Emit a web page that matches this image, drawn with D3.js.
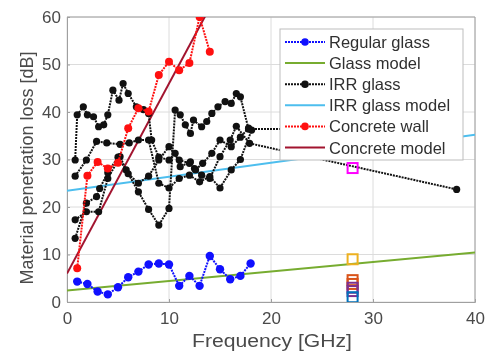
<!DOCTYPE html>
<html>
<head>
<meta charset="utf-8">
<script src="https://cdn.jsdelivr.net/npm/d3@7"></script>
<style>
  html, body { margin: 0; padding: 0; background: #fff; }
  svg { display: block; font-family: "Liberation Sans", Arial, sans-serif; filter: blur(0.45px); }
</style>
</head>
<body>
<svg id="chart" width="487" height="353"></svg>
<script>
const regularGlassFreq = [1, 2, 3, 4, 5, 6, 7, 8, 9, 10, 11, 12, 13, 14, 15, 16, 17, 18];
const regularGlassLoss = [4.3, 3.8, 2.2, 1.6, 3.1, 5.2, 6.4, 7.9, 8.1, 7.9, 3.4, 5.5, 3.4, 9.7, 6.9, 4.8, 5.5, 8.1];

const concreteFreq = [1, 2, 3, 4, 5, 6, 7, 8, 9, 10, 11, 12, 13, 14];
const concreteLoss = [7.1, 26.6, 29.5, 28.1, 29.3, 36.6, 40.8, 40.1, 47.8, 50.6, 48.8, 50.3, 60, 52.7];

// IRR glass sweeps: [GHz, dB]
const irrGlass1 = [[0.8, 29.9], [1.0, 39.4], [1.6, 41.1], [2.0, 39.4], [2.6, 39.0], [3.1, 36.9], [3.6, 37.3], [4.0, 39.4],
  [4.5, 44.6], [5.1, 42.5], [5.5, 46.0], [6.0, 43.9], [6.8, 41.1], [7.5, 40.5], [8.0, 39.7], [8.3, 34.1], [9.0, 30.5],
  [10.0, 29.9], [10.6, 31.3], [11.1, 28.5], [12.1, 29.5], [12.5, 28.1], [13.2, 26.7], [14.0, 26.0], [15.0, 30.6],
  [16.0, 34.1], [16.6, 37.0], [17.9, 33.4], [38.2, 23.7]];
const irrGlass2 = [[0.8, 26.5], [1.9, 29.9], [2.9, 33.8], [3.9, 33.5], [5.2, 33.2], [6.1, 33.5], [7.0, 34.1], [8.0, 34.1],
  [9.0, 25.0], [10.0, 24.0], [11.0, 26.0], [12.0, 26.7], [13.0, 25.3], [14.0, 26.4], [15.0, 24.0], [16.1, 27.8],
  [17.0, 30.0], [18.1, 36.2]];
const irrGlass3 = [[0.8, 17.3], [1.9, 19.0], [3.1, 19.0], [4.0, 26.0], [5.2, 30.6], [5.8, 27.8], [7.0, 23.2], [8.0, 19.5],
  [9.0, 16.2], [10.0, 19.7], [10.6, 40.4], [11.1, 39.4], [11.6, 37.3], [12.1, 35.5], [12.4, 38.3], [13.2, 36.9],
  [13.7, 38.0], [14.2, 39.7], [14.8, 41.1], [15.5, 42.2], [16.1, 41.8], [16.6, 43.9], [17.0, 43.2], [17.8, 36.4], [28, 36.4]];
const irrGlass4 = [[0.8, 13.4], [1.9, 20.8], [2.9, 22.2], [3.2, 23.9], [4.0, 27.2], [5.0, 30.5], [6.0, 27.0], [7.0, 25.0],
  [8.0, 26.5], [9.0, 29.9], [10.0, 32.7], [11.0, 29.9], [12.0, 29.2], [12.6, 27.8], [13.3, 29.2], [14.2, 31.3],
  [15.0, 34.1], [16.1, 32.7], [17.0, 34.7], [17.8, 36.6]];

// fitted models, end points [GHz, dB]
const glassModel = [[0, 2.4], [40, 10.4]];
const irrGlassModel = [[0, 23.4], [40, 35.2]];
const concreteModel = [[0, 6.0], [15, 66.0]];

// single 28 GHz measurements (hollow squares)
const squares28Loss = [28.2, 9.0, 4.6, 3.8, 3.0, 2.3, 1.0];
const squares28Color = ['#ff00ff', '#edb120', '#d95319', '#d95319', '#7e2f8e', '#7e2f8e', '#0072bd'];

const xTicks = [0, 10, 20, 30, 40];
const yTicks = [0, 10, 20, 30, 40, 50, 60];

const legendLabels = ['Regular glass', 'Glass model', 'IRR glass', 'IRR glass model', 'Concrete wall', 'Concrete model'];

const svg = d3.select('#chart');
const x = d3.scaleLinear().domain([0, 40]).range([67, 475]);
const y = d3.scaleLinear().domain([0, 60]).range([302, 17]);

svg.append('defs').append('clipPath').attr('id', 'plotclip')
  .append('rect').attr('x', 67).attr('y', 17).attr('width', 408).attr('height', 285);

// grid
const grid = svg.append('g').attr('stroke', '#dcdcdc').attr('stroke-width', 1);
grid.selectAll('line.gx').data(xTicks).join('line')
  .attr('x1', d => x(d)).attr('x2', d => x(d)).attr('y1', y(0)).attr('y2', y(60));
grid.selectAll('line.gy').data(yTicks).join('line')
  .attr('y1', d => y(d)).attr('y2', d => y(d)).attr('x1', x(0)).attr('x2', x(40));

// axes
svg.append('g').attr('transform', `translate(0,${y(0)})`)
  .call(d3.axisBottom(x).tickValues(xTicks).tickSize(-3).tickPadding(10))
  .call(g => g.select('.domain').attr('stroke', '#a0a0a0'))
  .call(g => g.selectAll('.tick line').attr('stroke', '#a0a0a0'))
  .call(g => g.selectAll('.tick text').attr('font-size', 17).attr('fill', '#4a4a4a').attr('font-family', null));
svg.append('g').attr('transform', `translate(${x(0)},0)`)
  .call(d3.axisLeft(y).tickValues(yTicks).tickSize(-3).tickPadding(6))
  .call(g => g.select('.domain').attr('stroke', '#a0a0a0'))
  .call(g => g.selectAll('.tick line').attr('stroke', '#a0a0a0'))
  .call(g => g.selectAll('.tick text').attr('font-size', 17).attr('fill', '#4a4a4a').attr('font-family', null));
// box top/right
svg.append('line').attr('x1', x(0)).attr('x2', x(40)).attr('y1', y(60)).attr('y2', y(60)).attr('stroke', '#a0a0a0');
svg.append('line').attr('x1', x(40)).attr('x2', x(40)).attr('y1', y(60)).attr('y2', y(0)).attr('stroke', '#a0a0a0');

// axis titles
svg.append('text').attr('x', 272).attr('y', 347).attr('text-anchor', 'middle')
  .attr('font-size', 18).attr('fill', '#4a4a4a').attr('textLength', 160).attr('lengthAdjust', 'spacingAndGlyphs')
  .text('Frequency [GHz]');
svg.append('text').attr('transform', 'translate(33,168) rotate(-90)').attr('text-anchor', 'middle')
  .attr('font-size', 18).attr('fill', '#4a4a4a')
  .text('Material penetration loss [dB]');

const plot = svg.append('g').attr('clip-path', 'url(#plotclip)');
const line = d3.line().x(d => x(d[0])).y(d => y(d[1]));

// models
const models = [[glassModel, '#77ac30'], [irrGlassModel, '#4dbeee'], [concreteModel, '#a2142f']];
plot.selectAll('path.model').data(models).join('path')
  .attr('d', d => line(d[0])).attr('fill', 'none').attr('stroke', d => d[1]).attr('stroke-width', 2);

// measured series
function series(points, color, r) {
  plot.append('path').attr('d', line(points)).attr('fill', 'none')
    .attr('stroke', color).attr('stroke-width', 2).attr('stroke-dasharray', '2,1');
  plot.append('g').selectAll('circle').data(points).join('circle')
    .attr('cx', d => x(d[0])).attr('cy', d => y(d[1])).attr('r', r).attr('fill', color);
}
[irrGlass1, irrGlass2, irrGlass3, irrGlass4].forEach(s => series(s, '#111', 3.6));
series(d3.zip(concreteFreq, concreteLoss), '#ff1010', 4);
series(d3.zip(regularGlassFreq, regularGlassLoss), '#1010ff', 4.2);

// 28 GHz squares
plot.selectAll('rect.sq').data(d3.zip(squares28Loss, squares28Color)).join('rect')
  .attr('x', x(28) - 5).attr('y', d => y(d[0]) - 5).attr('width', 10).attr('height', 10)
  .attr('fill', 'none').attr('stroke', d => d[1]).attr('stroke-width', 2);

// legend
const leg = svg.append('g');
leg.append('rect').attr('x', 280).attr('y', 29).attr('width', 183).attr('height', 131)
  .attr('fill', '#fff').attr('stroke', '#bdbdbd');
const legStyle = [
  { c: '#1010ff', dash: '2,1', dot: true },
  { c: '#77ac30', dash: null, dot: false },
  { c: '#111', dash: '2,1', dot: true },
  { c: '#4dbeee', dash: null, dot: false },
  { c: '#ff1010', dash: '2,1', dot: true },
  { c: '#a2142f', dash: null, dot: false }
];
const rows = leg.selectAll('g.row').data(legendLabels).join('g')
  .attr('transform', (d, i) => `translate(0,${42 + i * 21.1})`);
rows.append('line').attr('x1', 285).attr('x2', 325).attr('y1', 0).attr('y2', 0)
  .attr('stroke', (d, i) => legStyle[i].c).attr('stroke-width', 2)
  .attr('stroke-dasharray', (d, i) => legStyle[i].dash);
rows.filter((d, i) => legStyle[i].dot).append('circle').attr('cx', 305).attr('cy', 0).attr('r', 3.8)
  .attr('fill', (d, i) => legStyle[legendLabels.indexOf(d)].c);
rows.append('text').attr('x', 329).attr('y', 6).attr('font-size', 16.5).attr('fill', '#303030').text(d => d);
</script>
</body>
</html>
